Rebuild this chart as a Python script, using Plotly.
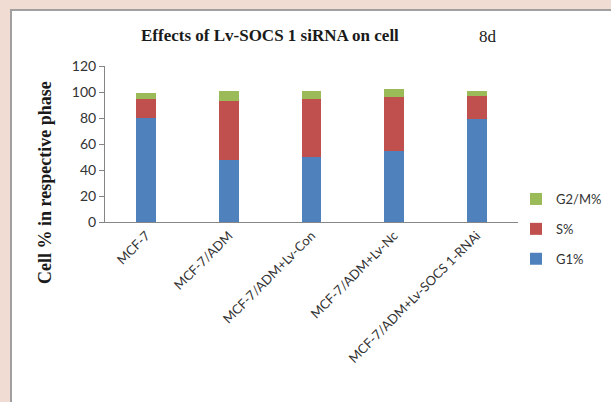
import plotly.graph_objects as go

categories = ["MCF-7", "MCF-7/ADM", "MCF-7/ADM+Lv-Con", "MCF-7/ADM+Lv-Nc", "MCF-7/ADM+Lv-SOCS 1-RNAi"]
g1 = [80, 48, 50, 55, 79]
s_phase = [15, 45, 45, 41, 18]
g2m = [4.5, 7.5, 5.5, 6, 4]
y_ticks = [0, 20, 40, 60, 80, 100, 120]

W, H = 611, 402
L, R, T, B = 105, 518, 66, 222  # plot area in pixels


def px(x):
    return (x - L) / (R - L)


def py(y):
    return (B - y) / (B - T)


fig = go.Figure()
series = [("G1%", g1, "#4f81bd", 3), ("S%", s_phase, "#c0504d", 2), ("G2/M%", g2m, "#9bbb59", 1)]
for name, vals, col, rank in series:
    fig.add_trace(go.Bar(x=categories, y=vals, name=name, marker_color=col,
                         marker_line_width=0, legendgroup=name, legendrank=rank))

fig.update_layout(
    width=W, height=H,
    margin=dict(l=L, r=W - R, t=T, b=H - B, autoexpand=False),
    barmode="stack", bargap=0.758,
    paper_bgcolor="#f1dcd3", plot_bgcolor="white",
    showlegend=True,
    legend=dict(x=px(516), y=py(184), xanchor="left", yanchor="top",
                traceorder="grouped", tracegroupgap=10,
                font=dict(family="Lato", size=13, color="#333333"),
                bgcolor="rgba(0,0,0,0)", itemwidth=30),
    font=dict(family="Lato", size=13, color="#333333"),
    xaxis=dict(showline=True, linecolor="#868686", linewidth=1, ticks="",
               tickangle=-45, tickfont=dict(family="Lato", size=13, color="#333333"),
               showgrid=False, automargin=False),
    yaxis=dict(range=[0, 120], tickvals=y_ticks, showline=True, linecolor="#868686",
               linewidth=1, ticks="outside", ticklen=5, tickcolor="#868686",
               showgrid=False, zeroline=False, automargin=False,
               tickfont=dict(family="Lato", size=14, color="#333333")),
    shapes=[dict(type="rect", xref="paper", yref="paper",
                 x0=px(11), x1=px(700), y0=py(500), y1=py(10),
                 fillcolor="white", line=dict(color="#a0a0a0", width=2), layer="below")],
    annotations=[
        dict(text="<b>Effects of Lv-SOCS 1 siRNA on cell</b>", xref="paper", yref="paper",
             x=px(270), y=py(35), showarrow=False, xanchor="center", yanchor="middle",
             font=dict(family="Liberation Serif", size=17, color="#1a1a1a")),
        dict(text="8d", xref="paper", yref="paper", x=px(488), y=py(36), showarrow=False,
             xanchor="center", yanchor="middle",
             font=dict(family="Liberation Serif", size=17, color="#1a1a1a")),
        dict(text="<b>Cell % in respective phase</b>", xref="paper", yref="paper",
             x=px(45), y=py(183), showarrow=False, textangle=-90,
             xanchor="center", yanchor="middle",
             font=dict(family="Liberation Serif", size=18, color="#1a1a1a")),
    ],
)

fig.write_html("out.html", config={"displayModeBar": False},
               post_script="document.body.style.margin='0';document.body.style.padding='0';"
                           "document.body.style.overflow='hidden';")
